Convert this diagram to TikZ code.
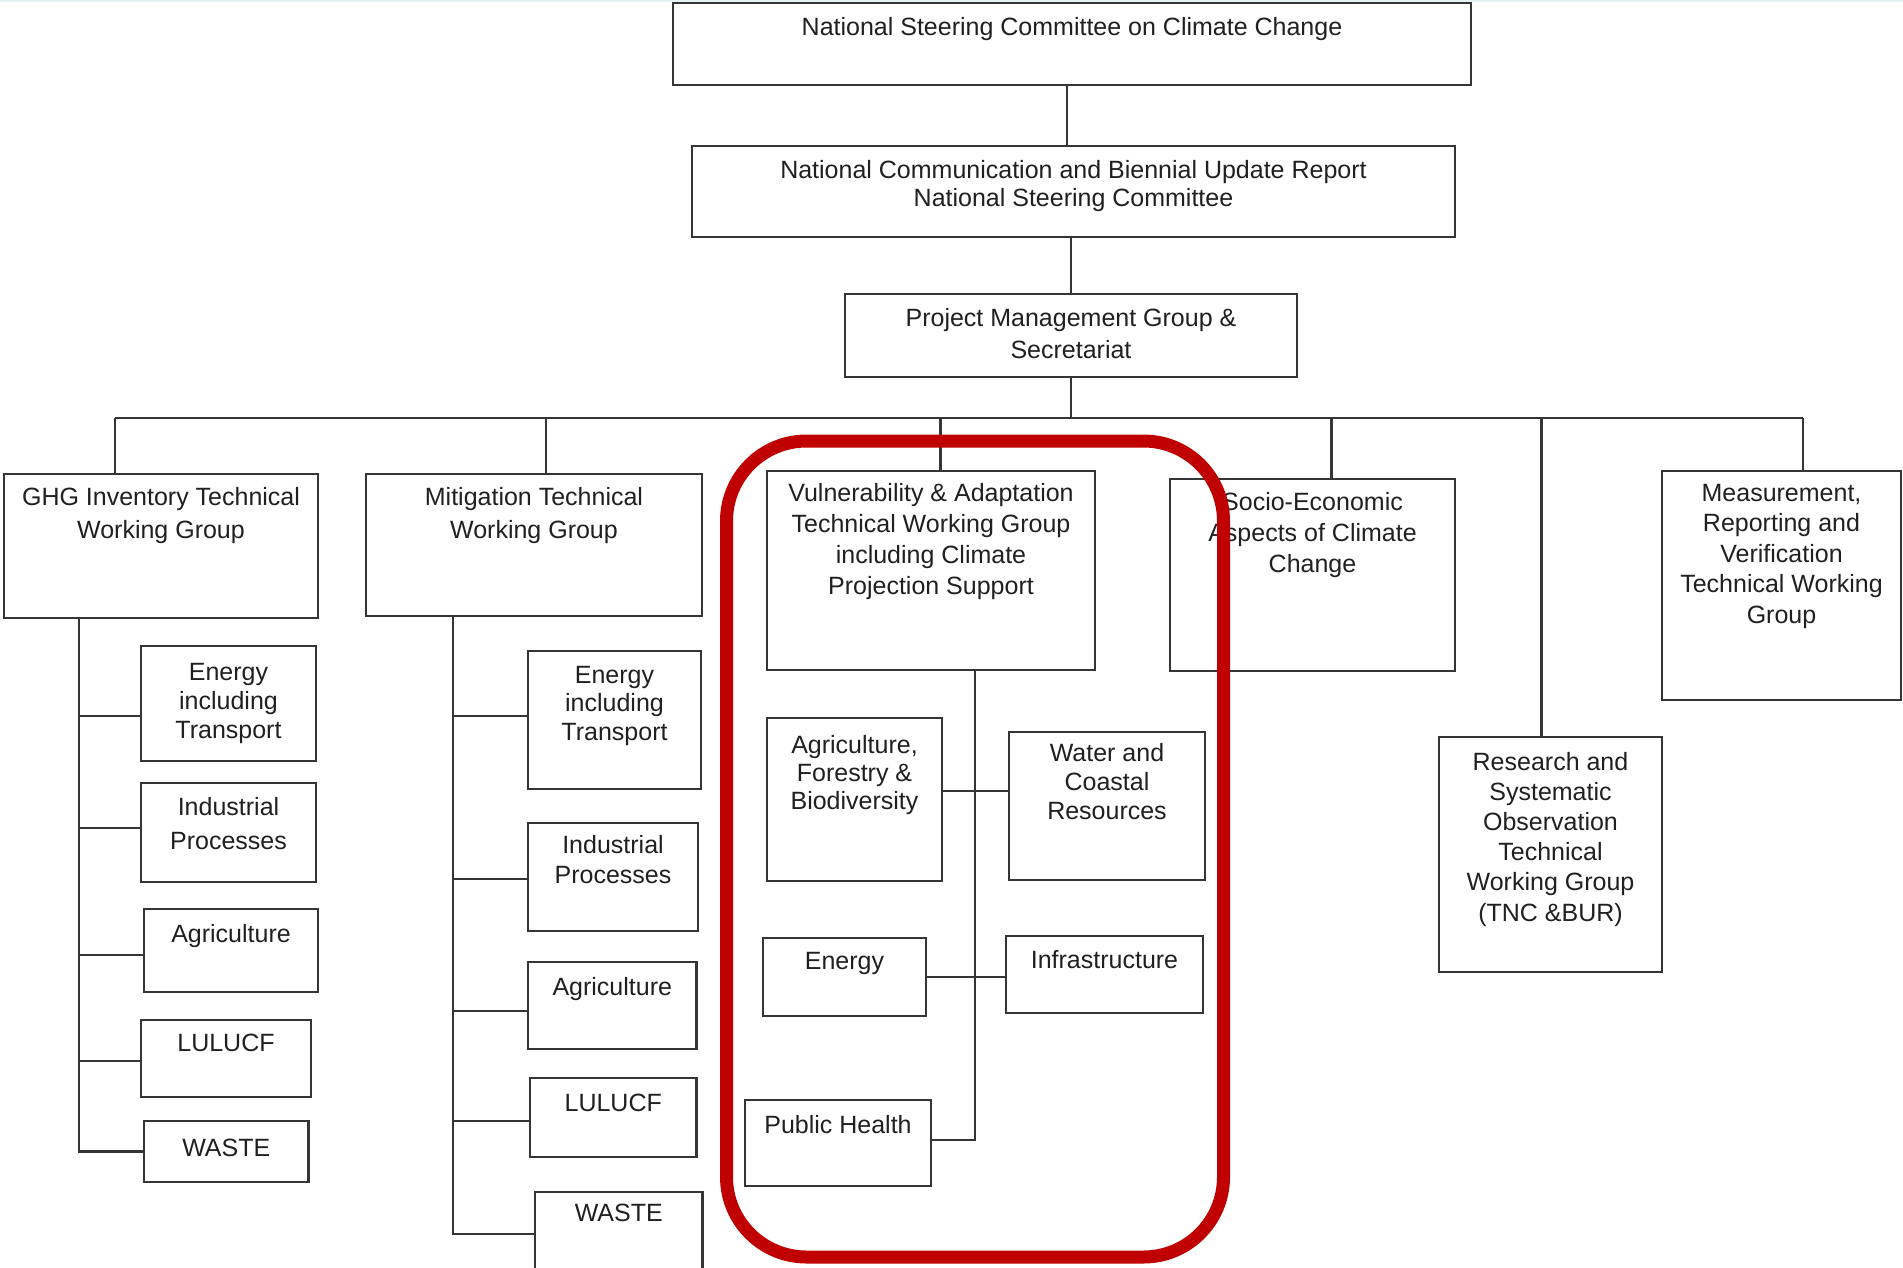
\documentclass[tikz,border=0pt]{standalone}
\usepackage{fontspec}
\setmainfont{Liberation Sans}
\usetikzlibrary{fit}
\definecolor{boxline}{HTML}{353535}
\definecolor{txtcol}{HTML}{202020}
\definecolor{hilite}{HTML}{C00000}
\definecolor{topline}{HTML}{E6F1F2}
\tikzset{
  box/.style={draw=boxline, line width=2.5pt, inner sep=0pt, fill=white},
  conn/.style={draw=boxline, line width=2.1pt},
  thinconn/.style={draw=boxline, line width=1.7pt},
  txt/.style={inner sep=0pt, align=center, text=txtcol, anchor=north, font=\fontsize{25}{30}\selectfont},
  ls/.style={font=\fontsize{25}{#1}\selectfont},
}
\begin{document}
\begin{tikzpicture}[x=1pt,y=-1pt]
\useasboundingbox[fill=white] (0,0) rectangle (1903,1267);
\draw[topline, line width=2pt] (0,1) -- (1903,1);

% top chain
\node[box, fit={(673,3) (1471,85)}] (nsc) {};
\node[txt] (nsc-t) at ([yshift=-15pt]nsc.north) {National Steering Committee on Climate Change};
\node[box, fit={(692,146) (1455,237)}] (ncbur) {};
\node[txt, ls=28] (ncbur-t) at ([yshift=-15pt]ncbur.north) {National Communication and Biennial Update Report\\National Steering Committee};
\node[box, fit={(845,294) (1297,377)}] (pmg) {};
\node[txt, ls=32] (pmg-t) at ([yshift=-15pt]pmg.north) {Project Management Group \&\\Secretariat};

% working groups
\node[box, fit={(4,474) (318,618)}] (ghg) {};
\node[txt, ls=33] (ghg-t) at ([yshift=-14pt]ghg.north) {GHG Inventory Technical\\Working Group};
\node[box, fit={(366,474) (702,616)}] (mit) {};
\node[txt, ls=33] (mit-t) at ([yshift=-14pt]mit.north) {Mitigation Technical\\Working Group};
\node[box, fit={(767,471) (1095,670)}] (vna) {};
\node[txt, ls=31] (vna-t) at ([yshift=-13.5pt]vna.north) {Vulnerability \& Adaptation\\Technical Working Group\\including Climate\\Projection Support};
\node[box, fit={(1170,479) (1455,671)}] (soc) {};
\node[txt, ls=31] (soc-t) at ([yshift=-14pt]soc.north) {Socio-Economic\\Aspects of Climate\\Change};
\node[box, fit={(1662,471) (1901,700)}] (mrv) {};
\node[txt, ls=30.6] (mrv-t) at ([yshift=-14pt]mrv.north) {Measurement,\\Reporting and\\Verification\\Technical Working\\Group};
\node[box, fit={(1439,737) (1662,972)}] (rso) {};
\node[txt, ls=30.2] (rso-t) at ([yshift=-16pt]rso.north) {Research and\\Systematic\\Observation\\Technical\\Working Group\\(TNC \&BUR)};

% GHG children
\node[box, fit={(141,646) (316,761)}] (ge) {};
\node[txt, ls=29] (ge-t) at ([yshift=-18pt]ge.north) {Energy\\including\\Transport};
\node[box, fit={(141,783) (316,882)}] (gi) {};
\node[txt, ls=34] (gi-t) at ([yshift=-15pt]gi.north) {Industrial\\Processes};
\node[box, fit={(144,909) (318,992)}] (ga) {};
\node[txt] (ga-t) at ([yshift=-16pt]ga.north) {Agriculture};
\node[box, fit={(141,1020) (311,1097)}] (gl) {};
\node[txt] (gl-t) at ([yshift=-15pt]gl.north) {LULUCF};
\node[box, fit={(144,1121) (308.5,1182)}] (gw) {};
\node[txt] (gw-t) at ([yshift=-19pt]gw.north) {WASTE};

% Mitigation children
\node[box, fit={(528,651) (701,789)}] (me) {};
\node[txt, ls=28.5] (me-t) at ([yshift=-16pt]me.north) {Energy\\including\\Transport};
\node[box, fit={(528,823) (698,931)}] (mi) {};
\node[txt, ls=30] (mi-t) at ([yshift=-13pt]mi.north) {Industrial\\Processes};
\node[box, fit={(528,962) (696.5,1049)}] (ma) {};
\node[txt] (ma-t) at ([yshift=-16pt]ma.north) {Agriculture};
\node[box, fit={(530,1078) (696.5,1157)}] (ml) {};
\node[txt] (ml-t) at ([yshift=-17.5pt]ml.north) {LULUCF};
\node[box, fit={(535,1192) (702.5,1275)}] (mw) {};
\node[txt] (mw-t) at ([yshift=-13pt]mw.north) {WASTE};

% V&A children
\node[box, fit={(767,718) (942,881)}] (va) {};
\node[txt, ls=28] (va-t) at ([yshift=-18.5pt]va.north) {Agriculture,\\Forestry \&\\Biodiversity};
\node[box, fit={(1009,732) (1205,880)}] (vw) {};
\node[txt, ls=29] (vw-t) at ([yshift=-12.5pt]vw.north) {Water and\\Coastal\\Resources};
\node[box, fit={(763,938) (926,1016)}] (ve) {};
\node[txt] (ve-t) at ([yshift=-15.5pt]ve.north) {Energy};
\node[box, fit={(1006,936) (1203,1013)}] (vi) {};
\node[txt] (vi-t) at ([yshift=-15.5pt]vi.north) {Infrastructure};
\node[box, fit={(745,1100) (931,1186)}] (vp) {};
\node[txt] (vp-t) at ([yshift=-16.5pt]vp.north) {Public Health};

% top connectors
\draw[conn] (nsc.south -| 1067,0) -- (ncbur.north -| 1067,0);
\draw[conn] (pmg.north |- ncbur.south) -- (pmg.north);
\coordinate (busL) at (115,418);
\coordinate (busR) at (1803,418);
\draw[conn] (pmg.south) -- (pmg.south |- busL);
\draw[conn] (busL) -- (busR);
\coordinate (dmit) at (546,418);
\coordinate (dvna) at (940.5,418);
\coordinate (dsoc) at (1331.5,418);
\coordinate (drso) at (1541.5,418);
\draw[conn] (busL) -- (busL |- ghg.north);
\draw[conn] (dmit) -- (dmit |- mit.north);
\draw[conn] (dvna) -- (dvna |- vna.north);
\draw[conn] (dsoc) -- (dsoc |- soc.north);
\draw[conn] (drso) -- (drso |- rso.north);
\draw[conn] (busR) -- (busR |- mrv.north);

% GHG tree
\draw[conn] (ghg.south -| 79,0) |- (gw.west);
\draw[conn] (79,716) -- (ge.west |- 0,716);
\draw[conn] (79,828) -- (gi.west |- 0,828);
\draw[conn] (79,955) -- (ga.west |- 0,955);
\draw[conn] (79,1061) -- (gl.west |- 0,1061);

% Mitigation tree
\draw[conn] (mit.south -| 453,0) |- (mw.west |- 0,1234);
\draw[conn] (453,716) -- (me.west |- 0,716);
\draw[conn] (453,879) -- (mi.west |- 0,879);
\draw[conn] (453,1011) -- (ma.west |- 0,1011);
\draw[conn] (453,1121) -- (ml.west |- 0,1121);

% V&A tree
\draw[thinconn] (vna.south -| 975,0) |- (vp.east |- 0,1140);
\draw[thinconn] (va.east |- 0,791) -- (vw.west |- 0,791);
\draw[thinconn] (ve.east |- 0,977) -- (vi.west |- 0,977);

% highlight
\draw[hilite, line width=13pt, rounded corners=80pt] (726.5,441) rectangle (1223.5,1257);
\end{tikzpicture}
\end{document}
